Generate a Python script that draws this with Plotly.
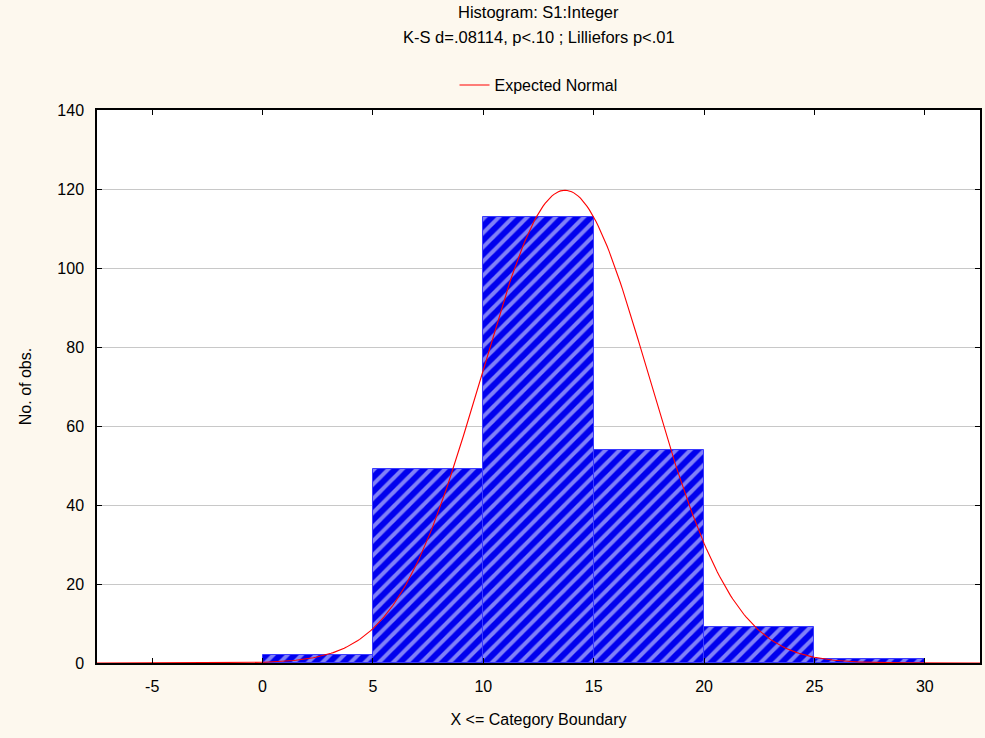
import numpy as np
import plotly.graph_objects as go

# Histogram data (bin upper boundaries and counts)
bin_upper = [5, 10, 15, 20, 25, 30]
counts = [2, 49, 113, 54, 9, 1]
bin_width = 5
x_ticks = [-5, 0, 5, 10, 15, 20, 25, 30]
y_ticks = [0, 20, 40, 60, 80, 100, 120, 140]

# Expected normal parameters
mean_val = 13.7
sd_val = 3.8

n_total = sum(counts)
centers = [u - bin_width / 2 for u in bin_upper]

xs = np.linspace(-7.5, 32.5, 401)
ys = n_total * bin_width / (sd_val * np.sqrt(2 * np.pi)) * np.exp(-0.5 * ((xs - mean_val) / sd_val) ** 2)

fig = go.Figure()
fig.add_trace(go.Bar(
    x=centers, y=counts, width=bin_width,
    marker=dict(color="#0000EE",
                line=dict(color="#3A3AFF", width=1),
                pattern=dict(shape="/", fgcolor="white", bgcolor="#0000EE", size=10, solidity=0.4)),
    showlegend=False, hoverinfo="x+y",
))
fig.add_trace(go.Scatter(
    x=xs, y=ys, mode="lines", name="Expected Normal",
    line=dict(color="#FF0000", width=1.1),
))

font = "Liberation Sans, Arial, sans-serif"
fig.update_layout(
    width=985, height=738,
    paper_bgcolor="#FDF8EE", plot_bgcolor="white",
    margin=dict(l=97, r=3, t=110, b=75),
    font=dict(family=font, size=16, color="black"),
    bargap=0,
    showlegend=True,
    legend=dict(orientation="h", x=0.5, xanchor="center", y=1.045, yanchor="middle",
                bgcolor="rgba(0,0,0,0)", font=dict(size=16), itemwidth=30),
)
fig.add_annotation(text="Histogram: S1:Integer", xref="paper", yref="paper",
                   x=0.5, y=1.0, yshift=98, yanchor="middle", showarrow=False, font=dict(size=16.5))
fig.add_annotation(text="K-S d=.08114, p<.10 ; Lilliefors p<.01", xref="paper", yref="paper",
                   x=0.5, y=1.0, yshift=73, yanchor="middle", showarrow=False, font=dict(size=16.5))
fig.update_xaxes(
    range=[-7.5, 32.5], tickvals=x_ticks, ticktext=[str(t) for t in x_ticks],
    showgrid=False, zeroline=False, showline=True, linecolor="black", linewidth=1.5,
    mirror="ticks", ticks="inside", ticklen=5, tickcolor="black",
    ticklabelstandoff=8, tickfont=dict(size=16),
    title=dict(text="X <= Category Boundary", standoff=20, font=dict(size=16)),
)
fig.update_yaxes(
    range=[0, 140], tickvals=y_ticks,
    showgrid=True, gridcolor="#C8C8C8", gridwidth=1, zeroline=False,
    showline=True, linecolor="black", linewidth=1.5,
    mirror="ticks", ticks="inside", ticklen=5, tickcolor="black",
    ticklabelstandoff=8, tickfont=dict(size=16),
    title=dict(text="No. of obs.", standoff=22, font=dict(size=16)),
)
fig.write_html("out.html", config={"displayModeBar": False},
               post_script="document.body.style.margin='0';")
